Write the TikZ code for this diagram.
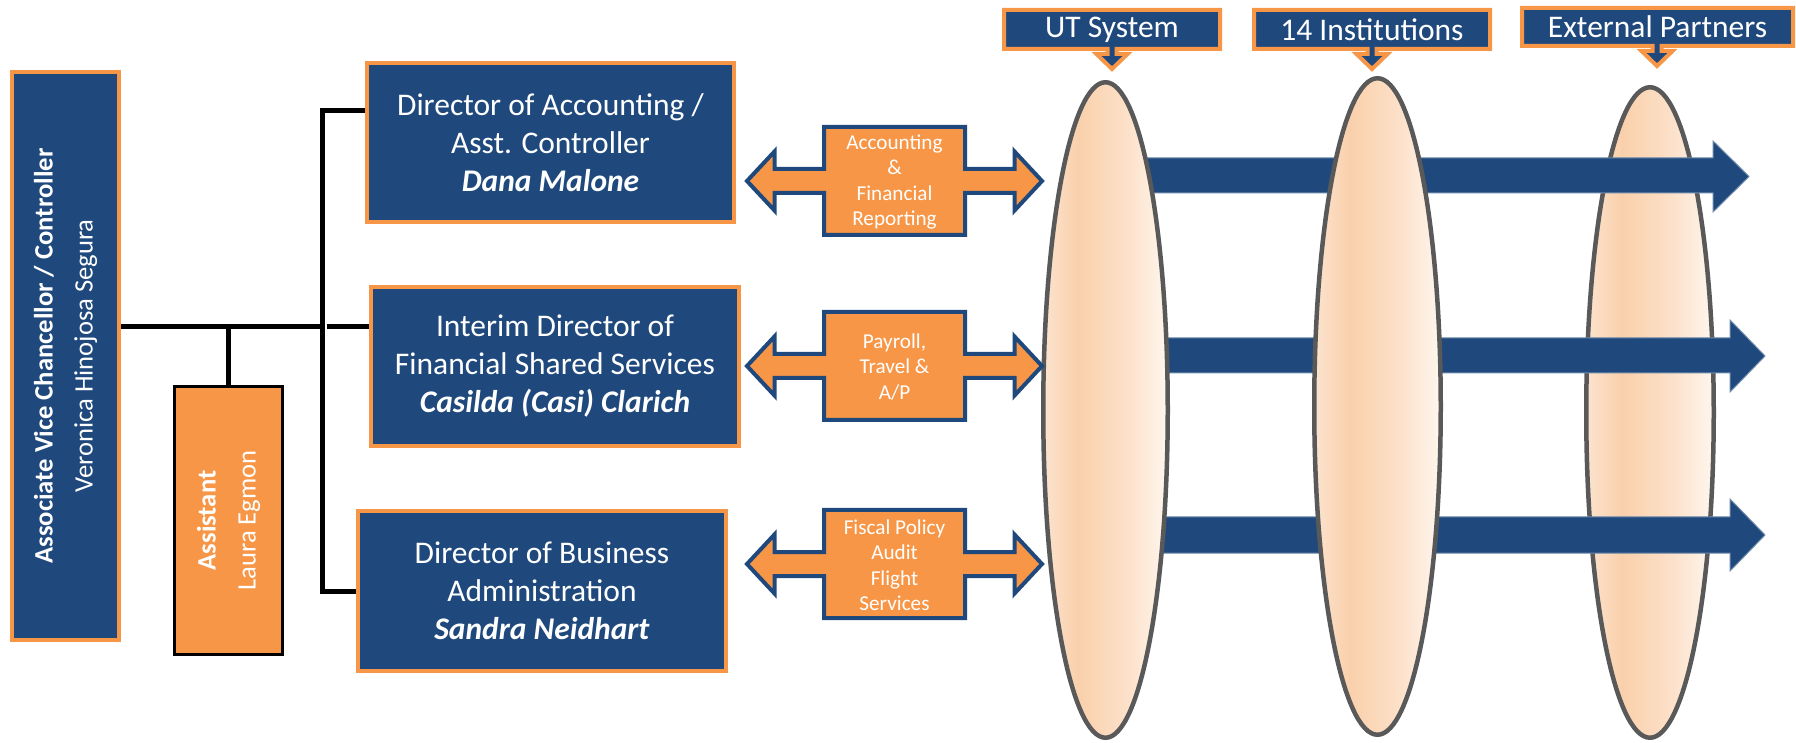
\documentclass[tikz,border=0pt]{standalone}
\usepackage{fontspec}
\setmainfont{Carlito}
\usetikzlibrary{shapes.geometric}
\definecolor{navy}{HTML}{1F497D}
\definecolor{orng}{HTML}{F79646}
\definecolor{ellgray}{HTML}{595959}
\definecolor{pkA}{HTML}{FBE3CF}
\definecolor{pkB}{HTML}{FAD0AB}
\definecolor{pkC}{HTML}{FCE0C8}
\definecolor{pkD}{HTML}{FEF6EE}
\pgfdeclarehorizontalshading{peach}{100bp}{color(0bp)=(pkA); color(25bp)=(pkA); color(39bp)=(pkB); color(58bp)=(pkC); color(75bp)=(pkD); color(100bp)=(pkD)}
\newcommand\calloutshape[5]{% L R T B cx
  \path[callout] (#1,#3) -- (#2,#3) -- (#2,#4) -- ({#5+4.5},#4) -- ({#5+4.5},{#4+5}) -- ({#5+15.5},{#4+5}) -- (#5,{#4+20}) -- ({#5-15.5},{#4+5}) -- ({#5-4.5},{#4+5}) -- ({#5-4.5},#4) -- (#1,#4) -- cycle;}
\begin{document}
\begin{tikzpicture}[x=0.5pt,y=-0.5pt,
  bluebox/.style={draw=orng, fill=navy, line width=2pt, rectangle, inner sep=0pt},
  boxtext/.style={text=white, align=center, font=\fontsize{15.75}{19}\selectfont},
  conn/.style={draw=black, line width=2.5pt},
  ell/.style={ellipse, draw=ellgray, line width=2.25pt, shade, shading=peach, inner sep=0pt},
  bigarrow/.style={fill=navy, draw=navy!65!white, line width=0.5pt},
  dblarrow/.style={fill=orng, draw=navy, line width=2pt, line join=miter},
  lbltext/.style={text=white, align=center, font=\fontsize{10.6}{12.75}\selectfont},
  callout/.style={fill=navy, draw=orng, line width=2pt, line join=miter},
  calltext/.style={text=white, font=\fontsize{15.75}{19}\selectfont},
  sidetext/.style={text=white, rotate=90, align=center, font=\fontsize{13.3}{20}\selectfont},
  dbl/.pic={\path[dblarrow] (-70.5,-54) -- (70.5,-54) -- (70.5,-12) -- (120,-12) -- (120,-29.5) -- (147.5,0) -- (120,29.5) -- (120,12) -- (70.5,12) -- (70.5,54) -- (-70.5,54) -- (-70.5,12) -- (-120,12) -- (-120,29.5) -- (-147.5,0) -- (-120,-29.5) -- (-120,-12) -- (-70.5,-12) -- cycle;}
]
\useasboundingbox (0,0) rectangle (1796,743);

% third ellipse (behind the arrows)
\node[ell, minimum width=63.75pt, minimum height=325.25pt] (e3) at (1650,412.5) {};

% big blue arrows
\path[bigarrow] (1106,158) -- (1713,158) -- (1713,141) -- (1749,176.5) -- (1713,212) -- (1713,193) -- (1106,193) -- cycle;
\path[bigarrow] (1106,338) -- (1730,338) -- (1730,320) -- (1765,356) -- (1730,392) -- (1730,373) -- (1106,373) -- cycle;
\path[bigarrow] (1106,517) -- (1730,517) -- (1730,499) -- (1765,535) -- (1730,571) -- (1730,553) -- (1106,553) -- cycle;

% first two ellipses (in front of the arrows)
\node[ell, minimum width=62.25pt, minimum height=327.75pt] (e1) at (1105.5,410) {};
\node[ell, minimum width=63.25pt, minimum height=328.25pt] (e2) at (1377.5,406.5) {};

% top callouts
\calloutshape{1004}{1220}{10}{49}{1112}
\node[calltext] (ut) at (1112,29.5) {UT System};
\calloutshape{1254}{1490}{10}{49}{1372}
\node[calltext] (inst) at (1372,29.5) {14 Institutions};
\calloutshape{1522}{1793}{8}{46}{1657}
\node[calltext] (ext) at (1657.5,27) {External Partners};

% left boxes
\node[bluebox, minimum width=53.5pt, minimum height=284pt] (avc) at (65.5,356) {};
\node[sidetext] (avct) at (avc.center) {\textbf{Associate Vice Chancellor / Controller}\\Veronica Hinojosa Segura};
\node[draw=black, fill=orng, line width=1.5pt, rectangle, inner sep=0pt, minimum width=54pt, minimum height=133.5pt] (asst) at (228.5,520.5) {};
\node[sidetext] (asstt) at (asst.center) {\textbf{Assistant}\\Laura Egmon};

% director boxes
\node[bluebox, boxtext, minimum width=183.5pt, minimum height=79.5pt] (dir1) at (550.5,142.5) {Director of Accounting /\\Asst. Controller\\\textbf{\textit{Dana Malone}}};
\node[bluebox, boxtext, minimum width=184pt, minimum height=79.5pt] (dir2) at (555,366.5) {Interim Director of\\Financial Shared Services\\\textbf{\textit{Casilda (Casi) Clarich}}};
\node[bluebox, boxtext, minimum width=184pt, minimum height=80pt] (dir3) at (542,591) {Director of Business\\Administration\\\textbf{\textit{Sandra Neidhart}}};

% connectors
\coordinate (j) at (322,327);
\coordinate (bt) at (322,111);
\coordinate (bb) at (322,591);
\draw[conn] (avc.east |- j) -- (j);
\draw[conn] (dir1.west |- bt) -- (bt) -- (bb) -- (dir3.west |- bb);
\draw[conn] ([xshift=2.25pt]j) -- (dir2.west |- j);
\draw[conn] (asst.north) -- (asst.north |- j);

% double arrows with labels
\pic at (894.5,181) {dbl};
\node[lbltext] (l1) at (894.5,182) {Accounting\\\&\\Financial\\Reporting};
\pic at (894.5,366) {dbl};
\node[lbltext] (l2) at (894.5,367) {Payroll,\\Travel \&\\A/P};
\pic at (894.5,564) {dbl};
\node[lbltext] (l3) at (894.5,565) {Fiscal Policy\\Audit\\Flight\\Services};
\end{tikzpicture}
\end{document}
